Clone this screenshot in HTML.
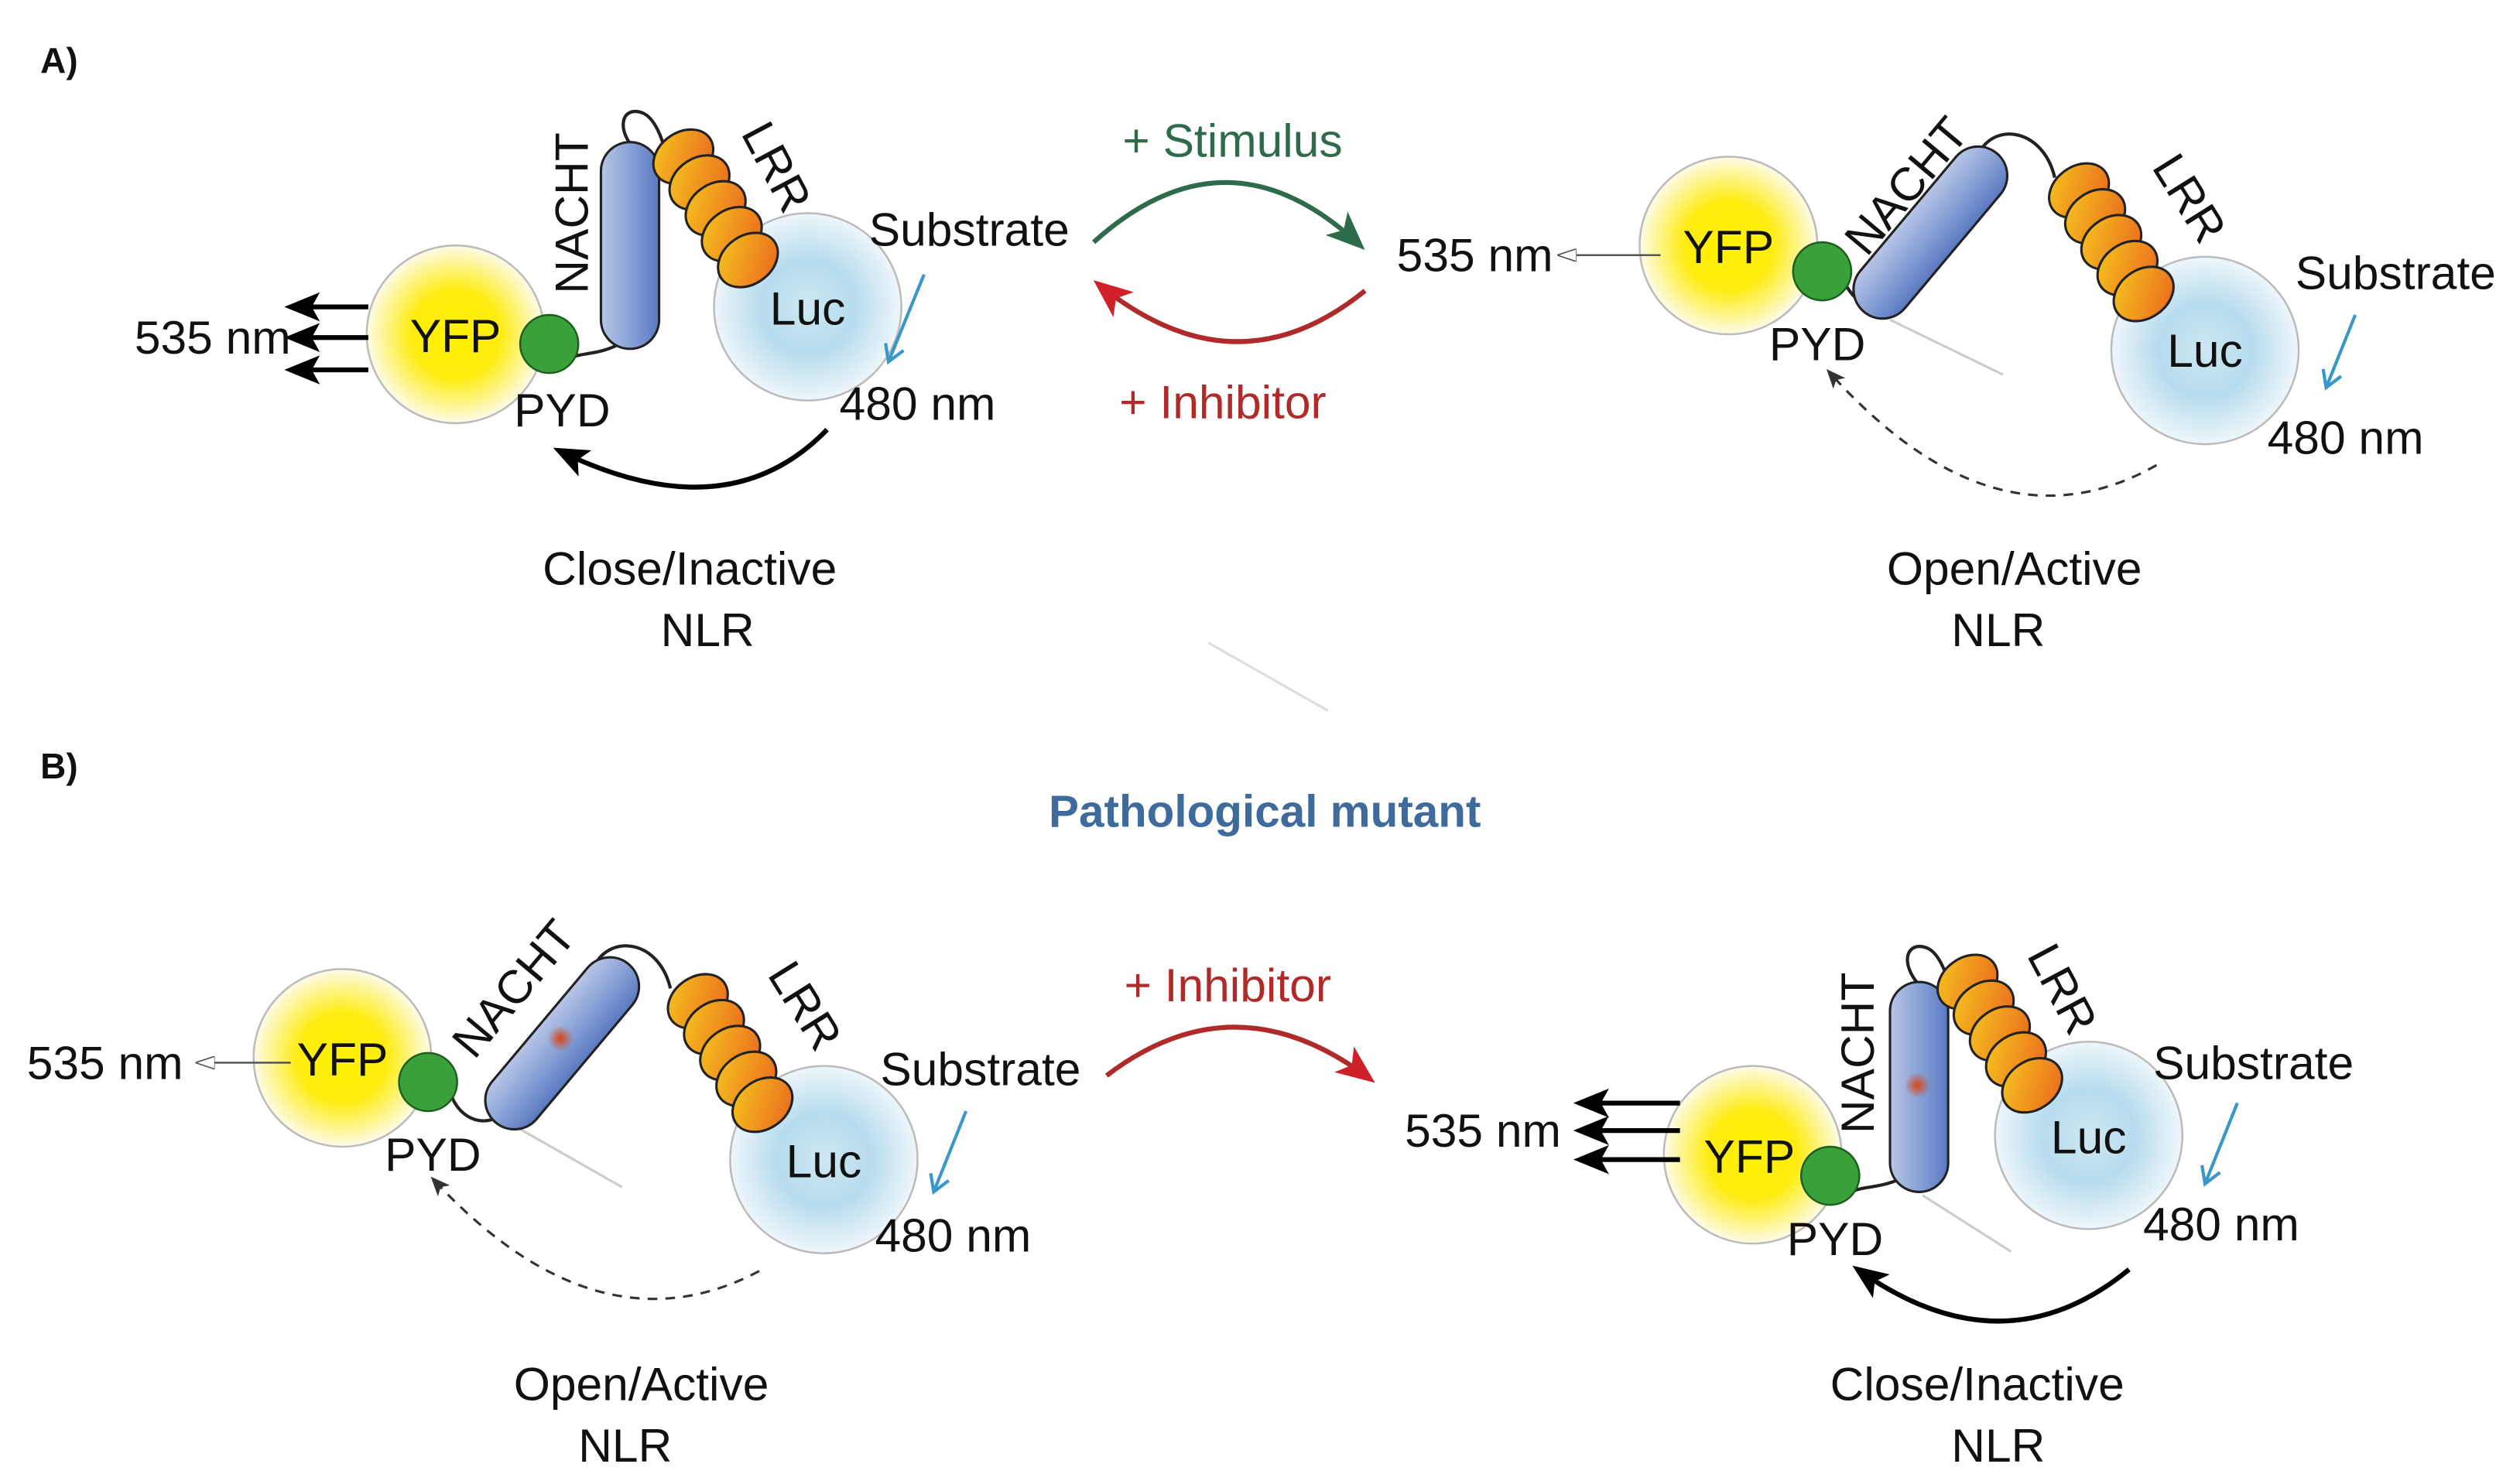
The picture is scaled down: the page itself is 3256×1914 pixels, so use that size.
<!DOCTYPE html>
<html><head><meta charset="utf-8"><style>
html,body{margin:0;padding:0;background:#fff;}
svg{display:block;}
text{font-family:"Liberation Sans",Arial,sans-serif;}
</style></head><body>
<svg width="3256" height="1914" viewBox="0 0 1560 917" preserveAspectRatio="none" xmlns="http://www.w3.org/2000/svg">
<defs>
<radialGradient id="yfp"><stop offset="0" stop-color="#fff200"/><stop offset="0.5" stop-color="#ffec10"/><stop offset="1" stop-color="#fdfbe8"/></radialGradient>
<radialGradient id="luc"><stop offset="0" stop-color="#cde7f2"/><stop offset="0.5" stop-color="#b7dcee"/><stop offset="1" stop-color="#eef6fa"/></radialGradient>
<linearGradient id="nacht" x1="0" x2="1" y1="0" y2="0"><stop offset="0" stop-color="#b8c6e6"/><stop offset="0.6" stop-color="#7f9ad3"/><stop offset="1" stop-color="#5a78c0"/></linearGradient>
<linearGradient id="lrr" x1="0" x2="1" y1="0" y2="1"><stop offset="0" stop-color="#f7c820"/><stop offset="1" stop-color="#e8631c"/></linearGradient>
<radialGradient id="dot"><stop offset="0" stop-color="#d9441a"/><stop offset="1" stop-color="#d9441a" stop-opacity="0"/></radialGradient>
<marker id="abig" markerWidth="22" markerHeight="18" refX="18" refY="9" orient="auto" markerUnits="userSpaceOnUse"><path d="M0,0 L22,9 L0,18 L5,9z" fill="#000"/></marker>
<marker id="ag" markerWidth="24" markerHeight="20" refX="20" refY="10" orient="auto" markerUnits="userSpaceOnUse"><path d="M0,0 L24,10 L0,20 L6,10z" fill="#2e6b4a"/></marker>
<marker id="ar" markerWidth="24" markerHeight="20" refX="20" refY="10" orient="auto" markerUnits="userSpaceOnUse"><path d="M0,0 L24,10 L0,20 L6,10z" fill="#d0202a"/></marker>
<marker id="ad" markerWidth="12" markerHeight="10" refX="10" refY="5" orient="auto" markerUnits="userSpaceOnUse"><path d="M0,0 L12,5 L0,10 L3,5z" fill="#333"/></marker>
<marker id="at" markerWidth="12" markerHeight="8" refX="11" refY="4" orient="auto" markerUnits="userSpaceOnUse"><path d="M0,0 L12,4 L0,8z" fill="#fff" stroke="#555" stroke-width="0.8"/></marker>
<marker id="ablue" markerWidth="14" markerHeight="14" refX="12" refY="7" orient="auto" markerUnits="userSpaceOnUse"><path d="M2,1 L12,7 L2,13" fill="none" stroke="#3a97c9" stroke-width="2"/></marker>
<g id="lrrchain">
<ellipse cx="0" cy="0" rx="20" ry="15" transform="rotate(-35)" fill="url(#lrr)" stroke="#222" stroke-width="1.5"/>
<ellipse cx="10" cy="16" rx="20" ry="15" transform="rotate(-35 10 16)" fill="url(#lrr)" stroke="#222" stroke-width="1.5"/>
<ellipse cx="20" cy="32" rx="20" ry="15" transform="rotate(-35 20 32)" fill="url(#lrr)" stroke="#222" stroke-width="1.5"/>
<ellipse cx="30" cy="48" rx="20" ry="15" transform="rotate(-35 30 48)" fill="url(#lrr)" stroke="#222" stroke-width="1.5"/>
<ellipse cx="40" cy="64" rx="20" ry="15" transform="rotate(-35 40 64)" fill="url(#lrr)" stroke="#222" stroke-width="1.5"/>
</g>
</defs>
<g font-size="29" fill="#111">
<text x="25" y="45" font-weight="bold" font-size="22">A)</text>
<text x="25" y="482" font-weight="bold" font-size="22">B)</text>

<!-- ===== A left: closed ===== -->
<circle cx="282" cy="207" r="55" fill="url(#yfp)" stroke="#bbb" stroke-width="1.2"/>
<circle cx="500" cy="190" r="58" fill="url(#luc)" stroke="#bbb" stroke-width="1.2"/>
<path d="M395,95 C380,80 385,65 398,70 C405,73 410,85 412,95" fill="none" stroke="#222" stroke-width="2"/>
<path d="M352,222 C360,218 372,220 385,212" fill="none" stroke="#222" stroke-width="2"/>
<rect x="372" y="88" width="36" height="128" rx="18" fill="url(#nacht)" stroke="#222" stroke-width="1.5"/>
<use href="#lrrchain" x="423" y="97"/>
<circle cx="340" cy="213" r="18" fill="#3aa13a" stroke="#1d5e1d" stroke-width="1.2"/>
<text x="282" y="218" text-anchor="middle">YFP</text>
<text x="500" y="201" text-anchor="middle">Luc</text>
<text x="348" y="264" text-anchor="middle">PYD</text>
<text x="354" y="132" text-anchor="middle" transform="rotate(-90 354 132)" dy="10">NACHT</text>
<text x="472" y="108" text-anchor="middle" transform="rotate(62 472 108)">LRR</text>
<line x1="228" y1="190" x2="180" y2="190" stroke="#000" stroke-width="3" marker-end="url(#abig)"/>
<line x1="228" y1="209" x2="180" y2="209" stroke="#000" stroke-width="3" marker-end="url(#abig)"/>
<line x1="228" y1="229" x2="180" y2="229" stroke="#000" stroke-width="3" marker-end="url(#abig)"/>
<text x="180" y="219" text-anchor="end">535 nm</text>
<text x="600" y="152" text-anchor="middle">Substrate</text>
<line x1="572" y1="170" x2="550" y2="224" stroke="#3a97c9" stroke-width="2" marker-end="url(#ablue)"/>
<text x="568" y="260" text-anchor="middle">480 nm</text>
<path d="M512,266 Q450,330 346,279" fill="none" stroke="#000" stroke-width="3" marker-end="url(#abig)"/>
<text x="427" y="362" text-anchor="middle">Close/Inactive</text>
<text x="438" y="400" text-anchor="middle">NLR</text>

<!-- center A -->
<text x="763" y="97" text-anchor="middle" fill="#2e6b4a">+ Stimulus</text>
<path d="M677,150 Q760,75 842,152" fill="none" stroke="#2e6b4a" stroke-width="3" marker-end="url(#ag)"/>
<path d="M845,180 Q765,245 680,176" fill="none" stroke="#b02a2a" stroke-width="3" marker-end="url(#ar)"/>
<text x="757" y="259" text-anchor="middle" fill="#b02a2a">+ Inhibitor</text>

<!-- ===== A right: open ===== -->
<line x1="1170" y1="198" x2="1240" y2="232" stroke="#ccc" stroke-width="1.5"/>
<circle cx="1070" cy="152" r="55" fill="url(#yfp)" stroke="#bbb" stroke-width="1.2"/>
<circle cx="1365" cy="217" r="58" fill="url(#luc)" stroke="#bbb" stroke-width="1.2"/>
<path d="M1225,95 C1235,75 1265,80 1272,110" fill="none" stroke="#222" stroke-width="2"/>
<path d="M1142,175 C1150,192 1165,192 1172,185" fill="none" stroke="#222" stroke-width="2"/>
<rect x="1177" y="80" width="36" height="128" rx="18" transform="rotate(40 1195 144)" fill="url(#nacht)" stroke="#222" stroke-width="1.5"/>
<use href="#lrrchain" x="1287" y="118"/>
<circle cx="1128" cy="168" r="18" fill="#3aa13a" stroke="#1d5e1d" stroke-width="1.2"/>
<text x="1070" y="163" text-anchor="middle">YFP</text>
<text x="1365" y="227" text-anchor="middle">Luc</text>
<text x="1125" y="223" text-anchor="middle">PYD</text>
<text x="1180" y="115" text-anchor="middle" transform="rotate(-50 1180 115)" dy="10">NACHT</text>
<text x="1347" y="128" text-anchor="middle" transform="rotate(58 1347 128)">LRR</text>
<line x1="1028" y1="158" x2="965" y2="158" stroke="#555" stroke-width="1.2" marker-end="url(#at)"/>
<text x="913" y="168" text-anchor="middle">535 nm</text>
<text x="1483" y="179" text-anchor="middle">Substrate</text>
<line x1="1458" y1="195" x2="1440" y2="240" stroke="#3a97c9" stroke-width="2" marker-end="url(#ablue)"/>
<text x="1452" y="281" text-anchor="middle">480 nm</text>
<path d="M1335,288 Q1235,345 1132,230" fill="none" stroke="#333" stroke-width="1.5" stroke-dasharray="6,5" marker-end="url(#ad)"/>
<text x="1247" y="362" text-anchor="middle">Open/Active</text>
<text x="1237" y="400" text-anchor="middle">NLR</text>

<line x1="748" y1="398" x2="822" y2="440" stroke="#ddd" stroke-width="1.5"/>
<text x="783" y="512" text-anchor="middle" font-weight="bold" font-size="28" fill="#3f6b9c">Pathological mutant</text>

<!-- ===== B left: open ===== -->
<line x1="320" y1="698" x2="385" y2="735" stroke="#ccc" stroke-width="1.5"/>
<circle cx="212" cy="655" r="55" fill="url(#yfp)" stroke="#bbb" stroke-width="1.2"/>
<circle cx="510" cy="718" r="58" fill="url(#luc)" stroke="#bbb" stroke-width="1.2"/>
<path d="M368,598 C378,578 408,582 415,612" fill="none" stroke="#222" stroke-width="2"/>
<path d="M280,680 C288,697 305,697 312,688" fill="none" stroke="#222" stroke-width="2"/>
<rect x="330" y="582" width="36" height="128" rx="18" transform="rotate(40 348 646)" fill="url(#nacht)" stroke="#222" stroke-width="1.5"/>
<circle cx="347" cy="643" r="8" fill="url(#dot)"/>
<use href="#lrrchain" x="432" y="620"/>
<circle cx="265" cy="670" r="18" fill="#3aa13a" stroke="#1d5e1d" stroke-width="1.2"/>
<text x="212" y="666" text-anchor="middle">YFP</text>
<text x="510" y="729" text-anchor="middle">Luc</text>
<text x="268" y="725" text-anchor="middle">PYD</text>
<text x="318" y="612" text-anchor="middle" transform="rotate(-50 318 612)" dy="10">NACHT</text>
<text x="490" y="628" text-anchor="middle" transform="rotate(58 490 628)">LRR</text>
<line x1="180" y1="658" x2="122" y2="658" stroke="#555" stroke-width="1.2" marker-end="url(#at)"/>
<text x="65" y="668" text-anchor="middle">535 nm</text>
<text x="607" y="672" text-anchor="middle">Substrate</text>
<line x1="598" y1="688" x2="578" y2="738" stroke="#3a97c9" stroke-width="2" marker-end="url(#ablue)"/>
<text x="590" y="775" text-anchor="middle">480 nm</text>
<path d="M470,787 Q370,840 268,730" fill="none" stroke="#333" stroke-width="1.5" stroke-dasharray="6,5" marker-end="url(#ad)"/>
<text x="397" y="867" text-anchor="middle">Open/Active</text>
<text x="387" y="905" text-anchor="middle">NLR</text>

<!-- center B -->
<text x="760" y="620" text-anchor="middle" fill="#b02a2a">+ Inhibitor</text>
<path d="M685,666 Q765,605 848,668" fill="none" stroke="#b02a2a" stroke-width="3" marker-end="url(#ar)"/>

<!-- ===== B right: closed ===== -->
<line x1="1190" y1="740" x2="1245" y2="775" stroke="#ccc" stroke-width="1.5"/>
<circle cx="1085" cy="715" r="55" fill="url(#yfp)" stroke="#bbb" stroke-width="1.2"/>
<circle cx="1293" cy="703" r="58" fill="url(#luc)" stroke="#bbb" stroke-width="1.2"/>
<path d="M1190,612 C1175,597 1180,582 1193,587 C1200,590 1205,602 1207,612" fill="none" stroke="#222" stroke-width="2"/>
<path d="M1146,738 C1154,734 1166,736 1180,728" fill="none" stroke="#222" stroke-width="2"/>
<rect x="1170" y="608" width="36" height="130" rx="18" fill="url(#nacht)" stroke="#222" stroke-width="1.5"/>
<circle cx="1187" cy="672" r="8" fill="url(#dot)"/>
<use href="#lrrchain" x="1218" y="608"/>
<circle cx="1133" cy="728" r="18" fill="#3aa13a" stroke="#1d5e1d" stroke-width="1.2"/>
<text x="1083" y="726" text-anchor="middle">YFP</text>
<text x="1293" y="714" text-anchor="middle">Luc</text>
<text x="1136" y="777" text-anchor="middle">PYD</text>
<text x="1150" y="652" text-anchor="middle" transform="rotate(-90 1150 652)" dy="10">NACHT</text>
<text x="1268" y="617" text-anchor="middle" transform="rotate(62 1268 617)">LRR</text>
<line x1="1040" y1="683" x2="978" y2="683" stroke="#000" stroke-width="3" marker-end="url(#abig)"/>
<line x1="1040" y1="700" x2="978" y2="700" stroke="#000" stroke-width="3" marker-end="url(#abig)"/>
<line x1="1040" y1="718" x2="978" y2="718" stroke="#000" stroke-width="3" marker-end="url(#abig)"/>
<text x="918" y="710" text-anchor="middle">535 nm</text>
<text x="1395" y="668" text-anchor="middle">Substrate</text>
<line x1="1385" y1="683" x2="1365" y2="733" stroke="#3a97c9" stroke-width="2" marker-end="url(#ablue)"/>
<text x="1375" y="768" text-anchor="middle">480 nm</text>
<path d="M1318,786 Q1240,850 1150,786" fill="none" stroke="#000" stroke-width="3" marker-end="url(#abig)"/>
<text x="1224" y="867" text-anchor="middle">Close/Inactive</text>
<text x="1237" y="905" text-anchor="middle">NLR</text>
</g>
</svg>
</body></html>
